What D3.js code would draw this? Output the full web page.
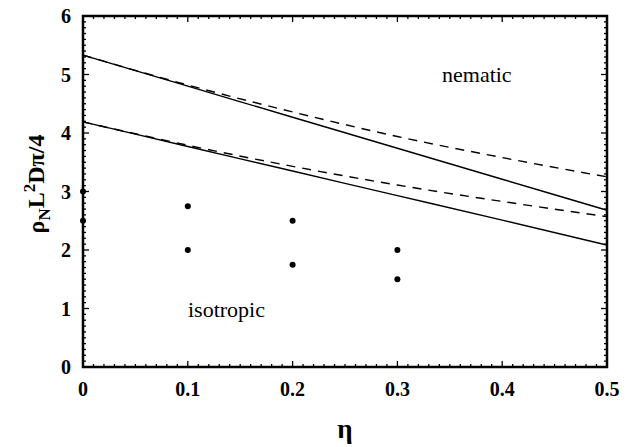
<!DOCTYPE html>
<html>
<head>
<meta charset="utf-8">
<script src="https://cdn.jsdelivr.net/npm/d3@7"></script>
<style>
  body { margin: 0; background: #fff; }
  svg text { font-family: "Liberation Serif", "Times New Roman", serif; fill: #000; }
</style>
</head>
<body>
<div id="canvas"></div>
<script>
// data
var eta = [0, 0.1, 0.2, 0.3, 0.4, 0.5];
var upperSolid = [5.33, 4.80, 4.27, 3.74, 3.21, 2.68];
var upperDashed = [5.33, 4.82, 4.36, 3.94, 3.58, 3.25];
var lowerSolid = [4.19, 3.77, 3.35, 2.93, 2.51, 2.085];
var lowerDashed = [4.19, 3.79, 3.43, 3.11, 2.83, 2.57];
var ptEta = [0, 0, 0.1, 0.1, 0.2, 0.2, 0.3, 0.3];
var ptRho = [3.0, 2.5, 2.75, 2.0, 2.5, 1.75, 2.0, 1.5];
var xTicks = [0, 0.1, 0.2, 0.3, 0.4, 0.5];
var yTicks = [0, 1, 2, 3, 4, 5, 6];

var w = 634, h = 447;
var pLeft = 83, pRight = 607, pTop = 16, pBottom = 367;

var svg = d3.select("#canvas").append("svg").attr("width", w).attr("height", h);

var x = d3.scaleLinear().domain([0, 0.5]).range([pLeft, pRight]);
var y = d3.scaleLinear().domain([0, 6]).range([pBottom, pTop]);

// minor ticks
var xMinor = d3.range(0, 0.5001, 0.01);
var yMinor = d3.range(0, 6.001, 0.1);
var g = svg.append("g").attr("stroke", "#000");

xMinor.forEach(function(v) {
  var big = xTicks.some(function(t) { return Math.abs(t - v) < 1e-6; });
  var len = big ? 6 : 3;
  g.append("line").attr("x1", x(v)).attr("x2", x(v)).attr("y1", pBottom).attr("y2", pBottom - len).attr("stroke-width", 1.3);
  g.append("line").attr("x1", x(v)).attr("x2", x(v)).attr("y1", pTop).attr("y2", pTop + len).attr("stroke-width", 1.3);
});
yMinor.forEach(function(v) {
  var big = yTicks.some(function(t) { return Math.abs(t - v) < 1e-6; });
  var len = big ? 6 : 3;
  g.append("line").attr("x1", pLeft).attr("x2", pLeft + len).attr("y1", y(v)).attr("y2", y(v)).attr("stroke-width", 1.3);
  g.append("line").attr("x1", pRight).attr("x2", pRight - len).attr("y1", y(v)).attr("y2", y(v)).attr("stroke-width", 1.3);
});

svg.append("rect").attr("x", pLeft).attr("y", pTop).attr("width", pRight - pLeft).attr("height", pBottom - pTop)
  .attr("fill", "none").attr("stroke", "#000").attr("stroke-width", 2.5);

// tick labels
svg.selectAll(".xl").data(xTicks).enter().append("text")
  .attr("x", function(d) { return x(d); }).attr("y", 396)
  .attr("text-anchor", "middle").style("font-size", "20px").style("font-weight", "bold")
  .text(function(d) { return d; });
svg.selectAll(".yl").data(yTicks).enter().append("text")
  .attr("x", 71).attr("y", function(d) { return y(d) + 7; })
  .attr("text-anchor", "end").style("font-size", "20px").style("font-weight", "bold")
  .text(function(d) { return d; });

// lines
var line = d3.line().x(function(d) { return x(d[0]); }).y(function(d) { return y(d[1]); }).curve(d3.curveMonotoneX);
function drawLine(vals, dash) {
  svg.append("path").datum(eta.map(function(e, i) { return [e, vals[i]]; }))
    .attr("d", line).attr("fill", "none").attr("stroke", "#000").attr("stroke-width", 1.4)
    .attr("stroke-dasharray", dash ? "9,7" : null);
}
drawLine(upperDashed, true);
drawLine(lowerDashed, true);
drawLine(upperSolid, false);
drawLine(lowerSolid, false);

// points
svg.selectAll(".pt").data(ptEta).enter().append("circle")
  .attr("cx", function(d) { return x(d); })
  .attr("cy", function(d, i) { return y(ptRho[i]); })
  .attr("r", 3).attr("fill", "#000");

// region labels
svg.append("text").attr("x", 442).attr("y", 82).style("font-size", "22px").text("nematic");
svg.append("text").attr("x", 188).attr("y", 317).style("font-size", "22px").text("isotropic");

// axis titles
svg.append("text").attr("x", x(0.25)).attr("y", 438).attr("text-anchor", "middle")
  .style("font-size", "27px").style("font-weight", "bold").text("η");

var yt = svg.append("text").attr("transform", "translate(44,184) rotate(-90)")
  .attr("text-anchor", "middle").style("font-size", "24px").style("font-weight", "bold");
yt.append("tspan").text("ρ");
yt.append("tspan").attr("dy", 6).style("font-size", "17px").text("N");
yt.append("tspan").attr("dy", -6).text("L");
yt.append("tspan").attr("dy", -9).style("font-size", "17px").text("2");
yt.append("tspan").attr("dy", 9).text("Dπ/4");
</script>
</body>
</html>
